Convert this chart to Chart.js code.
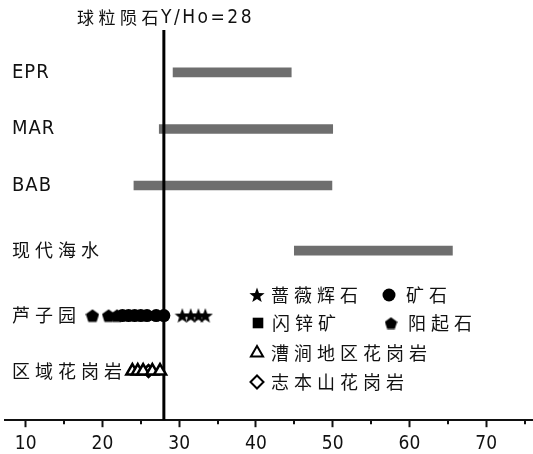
<!DOCTYPE html>
<html>
<head>
<meta charset="utf-8">
<script src="https://cdn.jsdelivr.net/npm/chart.js@4/dist/chart.umd.min.js"></script>
<style>
  html, body { margin: 0; padding: 0; background: #fff; }
  #wrap { width: 533px; height: 454px; }
</style>
</head>
<body>
<div id="wrap"><canvas id="chart"></canvas></div>
<script>
// 分组（纵向）
const rows = ['EPR', 'MAR', 'BAB', '现代海水', '芦子园', '区域花岗岩'];
const rowPos = [0, 1, 2, 3.15, 4.3, 5.28];

// Y/Ho 范围（灰色条）
const rangeLow = [29.2, 27.4, 24.1, 45.0];
const rangeHigh = [44.6, 50.0, 49.9, 65.6];

// 芦子园 样品
const rhodonite = [30.4, 31.5, 32.5, 33.4];                         // 蔷薇辉石
const ore = [22.6, 23.4, 24.2, 25.0, 25.8, 27.0, 28.0];             // 矿石
const sphalerite = [24.6, 26.4];                                    // 闪锌矿
const actinolite = [18.7, 20.8, 21.9];                              // 阳起石

// 区域花岗岩
const caojian = [23.9, 24.6, 25.3, 26.5, 27.5];   // 漕涧地区花岗岩
const zhibenshan = [26.0];                        // 志本山花岗岩

const chondrite = 28;
const xTickValues = [10, 15, 20, 25, 30, 35, 40, 45, 50, 55, 60, 65, 70, 75];
const yMin = -0.75, yMax = 6.15;

// 自绘标记：实心五角星、五边形
function makeMarker(kind, size) {
  const c = document.createElement('canvas');
  c.width = size; c.height = size;
  const g = c.getContext('2d');
  const cx = size / 2, cy = size / 2, r = size / 2;
  g.fillStyle = '#000';
  g.beginPath();
  if (kind === 'star') {
    for (let i = 0; i < 10; i++) {
      const rr = i % 2 === 0 ? r : r * 0.42;
      const a = -Math.PI / 2 + i * Math.PI / 5;
      g.lineTo(cx + rr * Math.cos(a), cy + rr * Math.sin(a) + 0.6);
    }
  } else {
    for (let i = 0; i < 5; i++) {
      const a = -Math.PI / 2 + i * 2 * Math.PI / 5;
      g.lineTo(cx + r * Math.cos(a), cy + r * Math.sin(a) + 0.7);
    }
  }
  g.closePath();
  g.fill();
  return c;
}
const starImg = makeMarker('star', 16);
const pentImg = makeMarker('pent', 14);
const starBig = makeMarker('star', 16);
const pentBig = makeMarker('pent', 13);

function pts(vals, row) {
  return vals.map(v => ({ x: v, y: rowPos[row] }));
}

// 图例位置
const legendSpots = [[257, 295], [389, 295], [258, 323], [391, 323], [257, 353], [257, 382]];

const annot = {
  id: 'annot',
  afterDraw(chart) {
    const { ctx, scales: { x, y } } = chart;
    ctx.save();
    // 次刻度（较短）
    ctx.strokeStyle = '#111';
    ctx.lineWidth = 2;
    xTickValues.filter(v => v % 10 !== 0).forEach(v => {
      const px = Math.round(x.getPixelForValue(v));
      ctx.beginPath();
      ctx.moveTo(px, x.top);
      ctx.lineTo(px, x.top + 4);
      ctx.stroke();
    });
    ctx.fillStyle = '#111';
    ctx.textBaseline = 'middle';
    ctx.textAlign = 'left';
    // 纵向分组名
    rows.forEach((r, i) => {
      const latin = /^[A-Z]+$/.test(r);
      ctx.font = latin ? '20px "DejaVu Sans Condensed", "DejaVu Sans"' : '18px "Noto Sans CJK SC"';
      ctx.letterSpacing = latin ? '1px' : '5px';
      ctx.fillText(r, 12, y.getPixelForValue(rowPos[i]));
    });
    // 顶部标注
    ctx.font = '17px "Noto Sans CJK SC"';
    ctx.letterSpacing = '4.5px';
    ctx.fillText('球粒陨石', 77, 18);
    const w = ctx.measureText('球粒陨石').width;
    ctx.font = '19px "DejaVu Sans Condensed", "DejaVu Sans"';
    ctx.letterSpacing = '2.5px';
    ctx.fillText('Y/Ho=' + chondrite, 77 + w - 2, 18);
    // 图例
    const sets = chart.data.datasets.filter(d => d.legendText);
    sets.forEach((d, i) => {
      const [lx, ly] = legendSpots[i];
      if (d.pointStyle === starImg || d.pointStyle === pentImg) {
        const img = d.pointStyle === starImg ? starBig : pentBig;
        ctx.drawImage(img, lx - img.width / 2, ly - img.height / 2);
      } else {
        ctx.fillStyle = d.backgroundColor;
        ctx.strokeStyle = d.borderColor;
        Chart.helpers.drawPoint(ctx, {
          pointStyle: d.pointStyle, radius: d.legendRadius, rotation: 0,
          borderWidth: d.borderWidth
        }, lx, ly);
      }
      ctx.fillStyle = '#111';
      ctx.font = '18px "Noto Sans CJK SC"';
      ctx.letterSpacing = '5px';
      ctx.fillText(d.legendText, lx + (i % 2 === 1 && i < 4 ? 17 : 14), ly);
    });
    ctx.restore();
  }
};

const barData = rangeLow.map((lo, i) => ({ y: rowPos[i], x: [lo, rangeHigh[i]] }));

new Chart(document.getElementById('chart'), {
  type: 'scatter',
  data: {
    datasets: [
      {
        type: 'bar', indexAxis: 'y', data: barData, order: 3,
        backgroundColor: '#6e6e6e', borderWidth: 0, barThickness: 9
      },
      {
        type: 'scatter', showLine: true, order: 2,
        data: [{ x: chondrite, y: yMin }, { x: chondrite, y: yMax }],
        borderColor: '#000', borderWidth: 3, pointRadius: 0
      },
      {
        legendText: '蔷薇辉石', data: pts(rhodonite, 4), order: 1,
        pointStyle: starImg, pointRadius: 8
      },
      {
        legendText: '矿石', data: pts(ore, 4), order: 1, legendRadius: 6.5,
        pointStyle: 'circle', pointRadius: 6.5, backgroundColor: '#000', borderColor: '#000', borderWidth: 0
      },
      {
        legendText: '闪锌矿', data: pts(sphalerite, 4), order: 1, legendRadius: 7.5,
        pointStyle: 'rect', pointRadius: 6.5, backgroundColor: '#000', borderColor: '#000', borderWidth: 0
      },
      {
        legendText: '阳起石', data: pts(actinolite, 4), order: 1,
        pointStyle: pentImg, pointRadius: 7
      },
      {
        legendText: '漕涧地区花岗岩', data: pts(caojian, 5), order: 1, legendRadius: 7,
        pointStyle: 'triangle', pointRadius: 7, backgroundColor: '#fff', borderColor: '#000', borderWidth: 2.5
      },
      {
        legendText: '志本山花岗岩', data: pts(zhibenshan, 5), order: 1, legendRadius: 6.5,
        pointStyle: 'rectRot', pointRadius: 6, backgroundColor: '#fff', borderColor: '#000', borderWidth: 2.5
      }
    ]
  },
  options: {
    responsive: true,
    maintainAspectRatio: false,
    animation: false,
    layout: { autoPadding: false, padding: { top: 30, left: 5, right: 0, bottom: -6 } },
    plugins: { legend: { display: false }, tooltip: { enabled: false } },
    scales: {
      x: {
        type: 'linear', min: 7.3, max: 76.1, offset: false,
        afterBuildTicks: s => { s.ticks = xTickValues.map(v => ({ value: v })); },
        ticks: {
          callback: v => (v % 10 === 0 ? v : ''),
          font: { family: '"DejaVu Sans Condensed", "DejaVu Sans"', size: 19 }, color: '#111',
          padding: 5, maxRotation: 0, autoSkip: false
        },
        grid: {
          drawOnChartArea: false, offset: false, tickLength: 7, tickWidth: 2,
          tickColor: c => (c.tick && c.tick.value % 10 !== 0 ? 'rgba(0,0,0,0)' : '#111')
        },
        border: { color: '#111', width: 2 }
      },
      y: {
        type: 'linear', display: false, reverse: true, min: yMin, max: yMax,
        offset: false, grid: { offset: false }
      }
    }
  },
  plugins: [annot]
});
</script>
</body>
</html>
